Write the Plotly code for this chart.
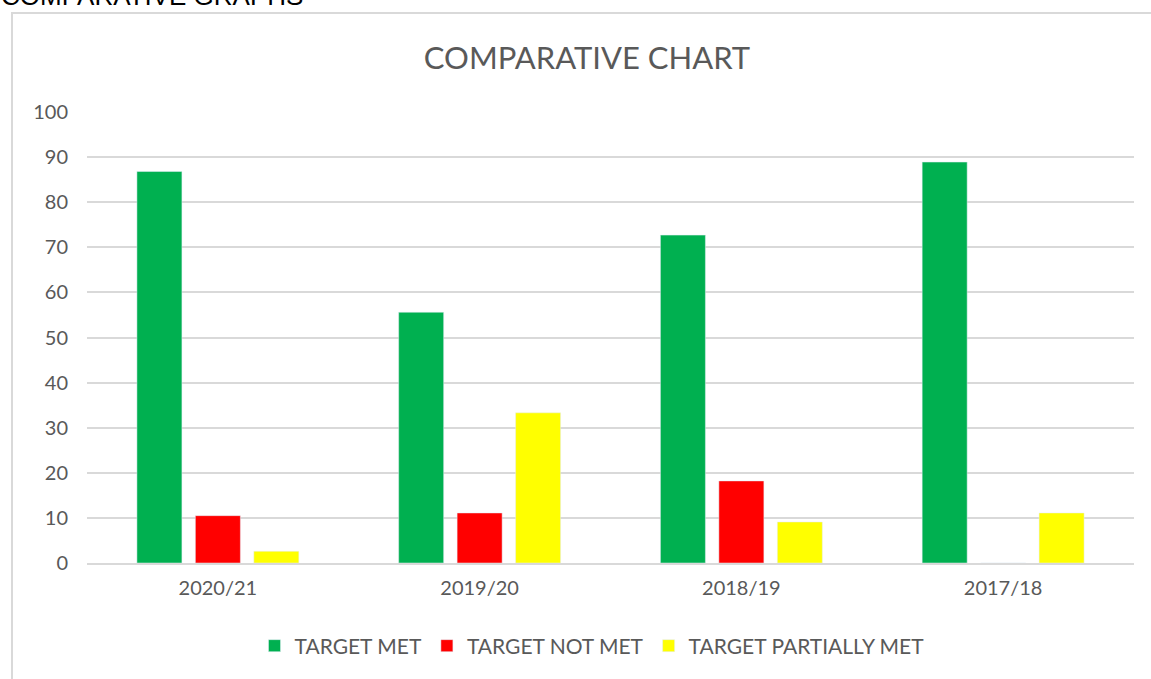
import plotly.graph_objects as go

categories = ["2020/21", "2019/20", "2018/19", "2017/18"]
target_met = [86.8, 55.6, 72.7, 88.9]
target_not_met = [10.5, 11.1, 18.2, 0]
target_partially_met = [2.6, 33.3, 9.1, 11.1]
y_ticks = [0, 10, 20, 30, 40, 50, 60, 70, 80, 90, 100]

W, H = 1151, 679
L, R, T, B = 87, 17, 112, 116
pw, ph = W - L - R, H - T - B

def px(X):
    return (X - L) / pw

def py(Y):
    return (H - B - Y) / ph

grey = "#595959"
font_family = "Lato, 'Open Sans', sans-serif"

fig = go.Figure()
fig.add_trace(go.Bar(name="TARGET MET", x=categories, y=target_met, marker_color="#00B050"))
fig.add_trace(go.Bar(name="TARGET NOT MET", x=categories, y=target_not_met, marker_color="#FF0000"))
fig.add_trace(go.Bar(name="TARGET PARTIALLY MET", x=categories, y=target_partially_met, marker_color="#FFFF00"))

fig.update_layout(
    width=W, height=H,
    margin=dict(l=L, r=R, t=T, b=B),
    paper_bgcolor="white", plot_bgcolor="white",
    barmode="group", bargap=0.33, bargroupgap=0.23,
    font=dict(family=font_family, color=grey),
    title=dict(text="COMPARATIVE CHART", x=px(587), xref="paper", xanchor="center",
               y=1 - 58 / H, yanchor="middle", font=dict(size=31, color=grey, family=font_family)),
    legend=dict(orientation="h", x=px(592), xanchor="center", y=py(646), yanchor="middle",
                font=dict(size=21, color=grey), itemwidth=30),
    showlegend=True,
)
fig.update_yaxes(range=[0, 100], tickvals=y_ticks, showgrid=True, gridcolor="#D9D9D9", gridwidth=2,
                 zeroline=False, showline=False, ticklabelstandoff=18,
                 tickfont=dict(size=20, color=grey))
fig.update_xaxes(showline=True, linecolor="#D9D9D9", linewidth=2, ticks="", ticklabelstandoff=6,
                 tickfont=dict(size=20, color=grey))

fig.add_shape(type="rect", xref="paper", yref="paper",
              x0=px(12), x1=px(1160), y0=py(700), y1=py(13),
              line=dict(color="#D9D9D9", width=2), fillcolor="rgba(0,0,0,0)", layer="below")

fig.add_annotation(text="COMPARATIVE GRAPHS", xref="paper", yref="paper",
                   x=px(-1), xanchor="left", y=py(-4), yanchor="middle", showarrow=False,
                   font=dict(family="Liberation Sans, Arial, sans-serif", size=26, color="black"))

fig.write_html("out.html")
